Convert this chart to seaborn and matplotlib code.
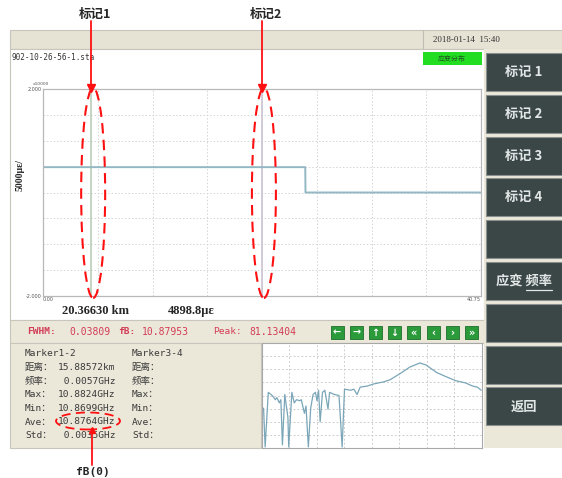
import seaborn as sns
import pandas as pd
import numpy as np
import matplotlib.pyplot as plt
import matplotlib.patches as mpatches
from matplotlib.lines import Line2D

# strain trace along the fibre (x10000 με)
distance_km = [0.00, 24.40, 24.42, 40.75]
strain = [0.48988, 0.48988, 0.0, 0.0]
x_max = 40.75
marker_km = [4.48058, 20.36630]
marker_names = ['标记1', '标记2']
marker_colors = ['#b9cdb9', '#cbc2d2']

# brillouin spectrum at the cursor
freq_ghz = [10.682, 10.684, 10.688, 10.693, 10.697, 10.699, 10.702, 10.704, 10.706, 10.709,
            10.713, 10.714, 10.718, 10.721, 10.724, 10.728, 10.730, 10.734, 10.736, 10.739,
            10.742, 10.745, 10.748, 10.750, 10.752, 10.754, 10.757, 10.760, 10.764, 10.766,
            10.772, 10.778, 10.782, 10.785, 10.793, 10.797, 10.801, 10.805, 10.814, 10.822,
            10.835, 10.843, 10.856, 10.868, 10.881, 10.889, 10.902, 10.914, 10.927, 10.939,
            10.948, 10.954, 10.959]
power = [38, 1, 53, 50, 46, 48, 43, 46, 3, 51,
         29, 1, 53, 43, 46, 45, 46, 33, 40, 1,
         38, 51, 53, 45, 55, 25, 53, 55, 37, 53,
         51, 50, 1, 56, 55, 56, 51, 58, 59, 61,
         63, 65, 71, 77, 81, 79, 72, 68, 64, 62,
         59, 58, 55]

info_left = [('Marker1-2', ''), ('距离：', '15.88572km'), ('频率：', ' 0.0057GHz'),
             ('Max：', '10.8824GHz'), ('Min：', '10.8699GHz'), ('Ave：', '10.8764GHz'),
             ('Std：', ' 0.0035GHz')]
info_right = ['Marker3-4', '距离：', '频率：', 'Max：', 'Min：', 'Ave：', 'Std：']
button_labels = ['标记 1', '标记 2', '标记 3', '标记 4', '', '应变 频率', '', '', '返回']
nav_glyphs = ['←', '→', '↑', '↓', '«', '‹', '›', '»']

sns.set_style('white')
plt.rcParams['font.family'] = ['DejaVu Sans', 'Noto Sans CJK SC']

W, H = 562, 478
fig = plt.figure(figsize=(W / 100, H / 100), dpi=100)
mono = ['DejaVu Sans Mono', 'Noto Sans CJK SC']
cjk = ['Noto Sans CJK SC', 'DejaVu Sans']
serif = ['Liberation Serif', 'DejaVu Serif']
beige = '#ebe8da'
RED = '#ff1010'


def fx(x):
    return x / W


def fy(y):
    return 1 - y / H


def box(x0, y0, x1, y1, **kw):
    r = mpatches.Rectangle((fx(x0), fy(y1)), fx(x1) - fx(x0), fy(y0) - fy(y1),
                           transform=fig.transFigure, zorder=0.5, **kw)
    fig.add_artist(r)


def txt(x, y, s, **kw):
    kw.setdefault('va', 'center')
    kw.setdefault('zorder', 6)
    fig.text(fx(x), fy(y), s, **kw)


def red_line(xs, ys, **kw):
    fig.add_artist(Line2D([fx(v) for v in xs], [fy(v) for v in ys], color=RED, zorder=10, **kw))


# ---- window frame ----
box(10, 30, 562, 49, facecolor='#e6e3d5', edgecolor='#c8c6bc', lw=0.8)
fig.add_artist(Line2D([fx(423), fx(423)], [fy(30), fy(49)], color='#c0bdb2', lw=0.8))
txt(433, 40, '2018-01-14  15:40', family=serif, fontsize=6.5, color='#333333')
box(10, 49, 484, 320, facecolor='white', edgecolor='#c8c6bc', lw=0.8)
txt(12, 58, '902-10-26-56-1.sta', family=mono, fontsize=5.5, color='#333333')
box(423, 52, 482, 65, facecolor='#22dd22', edgecolor='none')
txt(452, 58.5, '应变分布', family=cjk, fontsize=5, color='#225522', ha='center')

# ---- main strain plot ----
ax = fig.add_axes([fx(43), fy(296), fx(481) - fx(43), fy(89) - fy(296)])
ax.set_zorder(5)
df = pd.DataFrame({'km': distance_km, 'strain': strain})
sns.lineplot(data=df, x='km', y='strain', ax=ax, color='#93b8c4', lw=1.4, sort=False)
for km, c in zip(marker_km, marker_colors):
    ax.axvline(km, color=c, lw=1.2, zorder=1)
ax.set_xlim(0, x_max)
ax.set_ylim(-2, 2)
xt = [x_max * i / 8 for i in range(9)]
ax.set_xticks(xt)
ax.set_xticklabels(['0.00'] + [''] * 7 + ['40.75'], fontsize=3.5, color='#555555')
yt = [-2 + 0.5 * i for i in range(9)]
ax.set_yticks(yt)
ax.set_yticklabels(['-2.000'] + [''] * 7 + ['2.000'], fontsize=3.5, color='#555555')
ax.tick_params(length=0, pad=1)
ax.get_xticklabels()[0].set_ha('left')
ax.get_xticklabels()[-1].set_ha('right')
ax.grid(True, color='#d4d4d4', ls=(0, (1.5, 2)), lw=0.7)
for s in ax.spines.values():
    s.set_color('#b8b8b8')
    s.set_linewidth(0.9)
ax.set_xlabel('')
ax.set_ylabel('')
txt(33, 84, 'x10000', fontsize=3.2, color='#555555')
txt(20, 175, '5000με/', family=serif, fontsize=7, weight='bold', rotation=90, ha='center')
txt(62, 311, '20.36630 km', family=serif, fontsize=9, weight='bold')
txt(168, 311, '4898.8με', family=serif, fontsize=9, weight='bold')

# red annotations on the main plot
for km, name in zip(marker_km, marker_names):
    px = 43 + km / x_max * 438
    red_line([px, px], [21, 88], lw=1.3)
    red_line([px], [88], marker='v', ms=6)
    txt(px + 4, 14, name, family=cjk, fontsize=9, weight='bold', ha='center')
    fig.add_artist(mpatches.Ellipse((fx(px + 2), fy(193)), 24 / W, 210 / H, transform=fig.transFigure,
                                    fill=False, edgecolor=RED, lw=1.5, ls=(0, (5, 3)), zorder=10))

# ---- status bar ----
box(10, 320, 484, 343, facecolor=beige, edgecolor='#c8c6bc', lw=0.8)
red = '#d23c55'
txt(27, 332, 'FWHM:', family=mono, fontsize=6.8, color=red, weight='bold')
txt(69, 332, '0.03809', family=mono, fontsize=7, color=red)
txt(118, 332, 'fB:', family=mono, fontsize=6.8, color=red, weight='bold')
txt(142, 332, '10.87953', family=mono, fontsize=7, color=red)
txt(213, 332, 'Peak:', family=mono, fontsize=6.8, color=red)
txt(249, 332, '81.13404', family=mono, fontsize=7, color=red)
for i, g in enumerate(nav_glyphs):
    cx = 337 + i * 19.2
    box(cx - 6.5, 326, cx + 6.5, 339, facecolor='#2a9a3a', edgecolor='#1e6e2a', lw=0.6)
    txt(cx, 332.5, g, fontsize=7, weight='bold', color='white', ha='center')

# ---- marker info panel ----
box(10, 343, 261, 448, facecolor=beige, edgecolor='#c8c6bc', lw=0.8)
for i, ((lab, val), lab2) in enumerate(zip(info_left, info_right)):
    y = 354 + i * 13.6
    txt(25, y, lab, family=mono, fontsize=6.8, color='#3a3a3a')
    txt(58, y, val, family=mono, fontsize=6.8, color='#3a3a3a')
    txt(132, y, lab2, family=mono, fontsize=6.8, color='#3a3a3a')
fig.add_artist(mpatches.Ellipse((fx(88), fy(421)), 64 / W, 17 / H, transform=fig.transFigure,
                                fill=False, edgecolor=RED, lw=1.3, ls=(0, (5, 3)), zorder=10))
red_line([92, 92], [465, 432], lw=1.3)
red_line([92], [430], marker='^', ms=5)
txt(93, 472, 'fB(0)', family=mono, fontsize=8, weight='bold', ha='center')

# ---- spectrum panel ----
ax2 = fig.add_axes([fx(262), fy(448), fx(482) - fx(262), fy(343) - fy(448)])
ax2.set_zorder(5)
sp = pd.DataFrame({'freq': freq_ghz, 'power': power})
sns.lineplot(data=sp, x='freq', y='power', ax=ax2, color='#7aa6b8', lw=0.9, sort=False)
ax2.set_xlim(10.68, 10.96)
ax2.set_ylim(0, 100)
ax2.set_xticks([10.68 + 0.035 * i for i in range(9)])
ax2.set_yticks([12.5 * i for i in range(9)])
ax2.set_xticklabels([])
ax2.set_yticklabels([])
ax2.tick_params(length=0)
ax2.grid(True, color='#cfcfcf', ls=(0, (2, 2)), lw=0.7)
ax2.set_xlabel('')
ax2.set_ylabel('')
for s in ax2.spines.values():
    s.set_color('#a8a8a8')

# ---- right button column ----
box(484, 49, 562, 448, facecolor=beige, edgecolor='none')
for i, lab in enumerate(button_labels):
    y0 = 53 + i * 41.8
    box(486, y0, 562, y0 + 38, facecolor='#3b4747', edgecolor='#8a9090', lw=0.8)
    if lab:
        txt(524, y0 + 19, lab, family=cjk, fontsize=9.5, weight='bold', color='#e2e6e6', ha='center')
fig.add_artist(Line2D([fx(526), fx(552)], [fy(290), fy(290)], color='#e2e6e6', lw=0.9, zorder=6))

plt.savefig('out.png', dpi=100)
